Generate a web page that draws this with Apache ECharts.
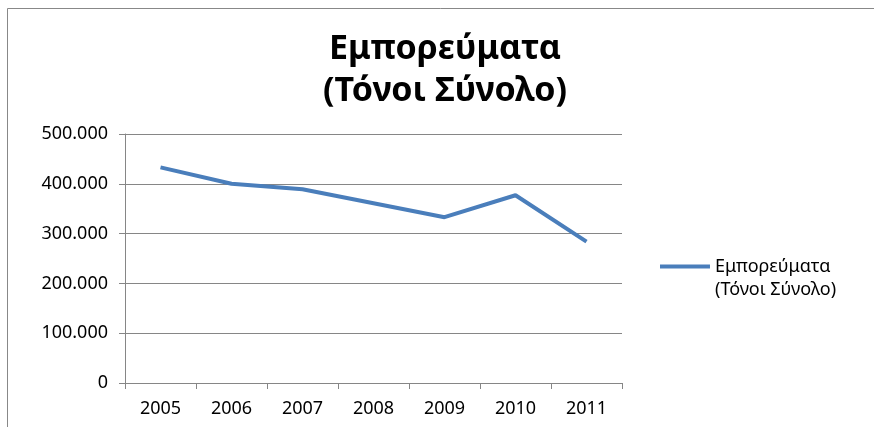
<!DOCTYPE html>
<html>
<head>
<meta charset="utf-8">
<script src="https://cdn.jsdelivr.net/npm/echarts@6/dist/echarts.min.js"></script>
<style>
html, body { margin: 0; padding: 0; background: #fff; }
#chart { width: 874px; height: 427px; }
</style>
</head>
<body>
<div id="chart"></div>
<script>
var years = ['2005', '2006', '2007', '2008', '2009', '2010', '2011'];
var tonnes = [433000, 400000, 389000, 361000, 333000, 377000, 284000];
var yTicks = [0, 100000, 200000, 300000, 400000, 500000];
var seriesName = 'Εμπορεύματα\n(Τόνοι Σύνολο)';

var myChart = echarts.init(document.getElementById('chart'));

function fmt(v) {
    if (v == 0) return '0';
    return (v / 1000).toFixed(0) + '.000';
}

var option = {
    backgroundColor: '#fff',
    textStyle: { fontFamily: 'Noto Sans' },
    title: {
        text: 'Εμπορεύματα\n(Τόνοι Σύνολο)',
        left: 440,
        textAlign: 'center',
        top: 23,
        textStyle: {
            fontFamily: 'Noto Sans',
            fontSize: 34,
            fontWeight: 'bold',
            lineHeight: 42,
            color: '#000'
        }
    },
    legend: {
        left: 655,
        top: 250,
        itemWidth: 50,
        itemHeight: 27,
        // line sits at the top so it lines up with the first text line
        icon: 'path://M0,0H50V4H0Z M0,27H50V27.01H0Z',
        textStyle: {
            fontFamily: 'Noto Sans',
            fontSize: 18,
            color: '#000',
            lineHeight: 23
        },
        data: [seriesName]
    },
    grid: {
        left: 125,
        right: 252,
        top: 134,
        bottom: 44
    },
    xAxis: {
        type: 'category',
        data: years,
        boundaryGap: true,
        axisLine: { lineStyle: { color: '#868686', width: 1 } },
        axisTick: { show: true, length: 6, lineStyle: { color: '#868686' } },
        axisLabel: { color: '#000', fontSize: 18, margin: 17, fontFamily: 'Noto Sans' }
    },
    yAxis: {
        type: 'value',
        min: 0,
        max: 500000,
        interval: 100000,
        axisLine: { show: true, lineStyle: { color: '#868686', width: 1 } },
        axisTick: { show: true, length: 6, lineStyle: { color: '#868686' } },
        splitLine: { lineStyle: { color: '#868686', width: 1 } },
        axisLabel: {
            color: '#000',
            fontSize: 18,
            margin: 17,
            fontFamily: 'Noto Sans',
            formatter: fmt
        }
    },
    series: [{
        name: seriesName,
        type: 'line',
        data: tonnes,
        symbol: 'none',
        color: '#4a7ebb',
        lineStyle: { width: 4, color: '#4a7ebb' }
    }],
    graphic: [{
        type: 'polyline',
        shape: { points: [[7.5, 427], [7.5, 8.5], [874, 8.5]] },
        style: { stroke: '#888', lineWidth: 1, fill: null }
    }]
};
myChart.setOption(option);
</script>
</body>
</html>
